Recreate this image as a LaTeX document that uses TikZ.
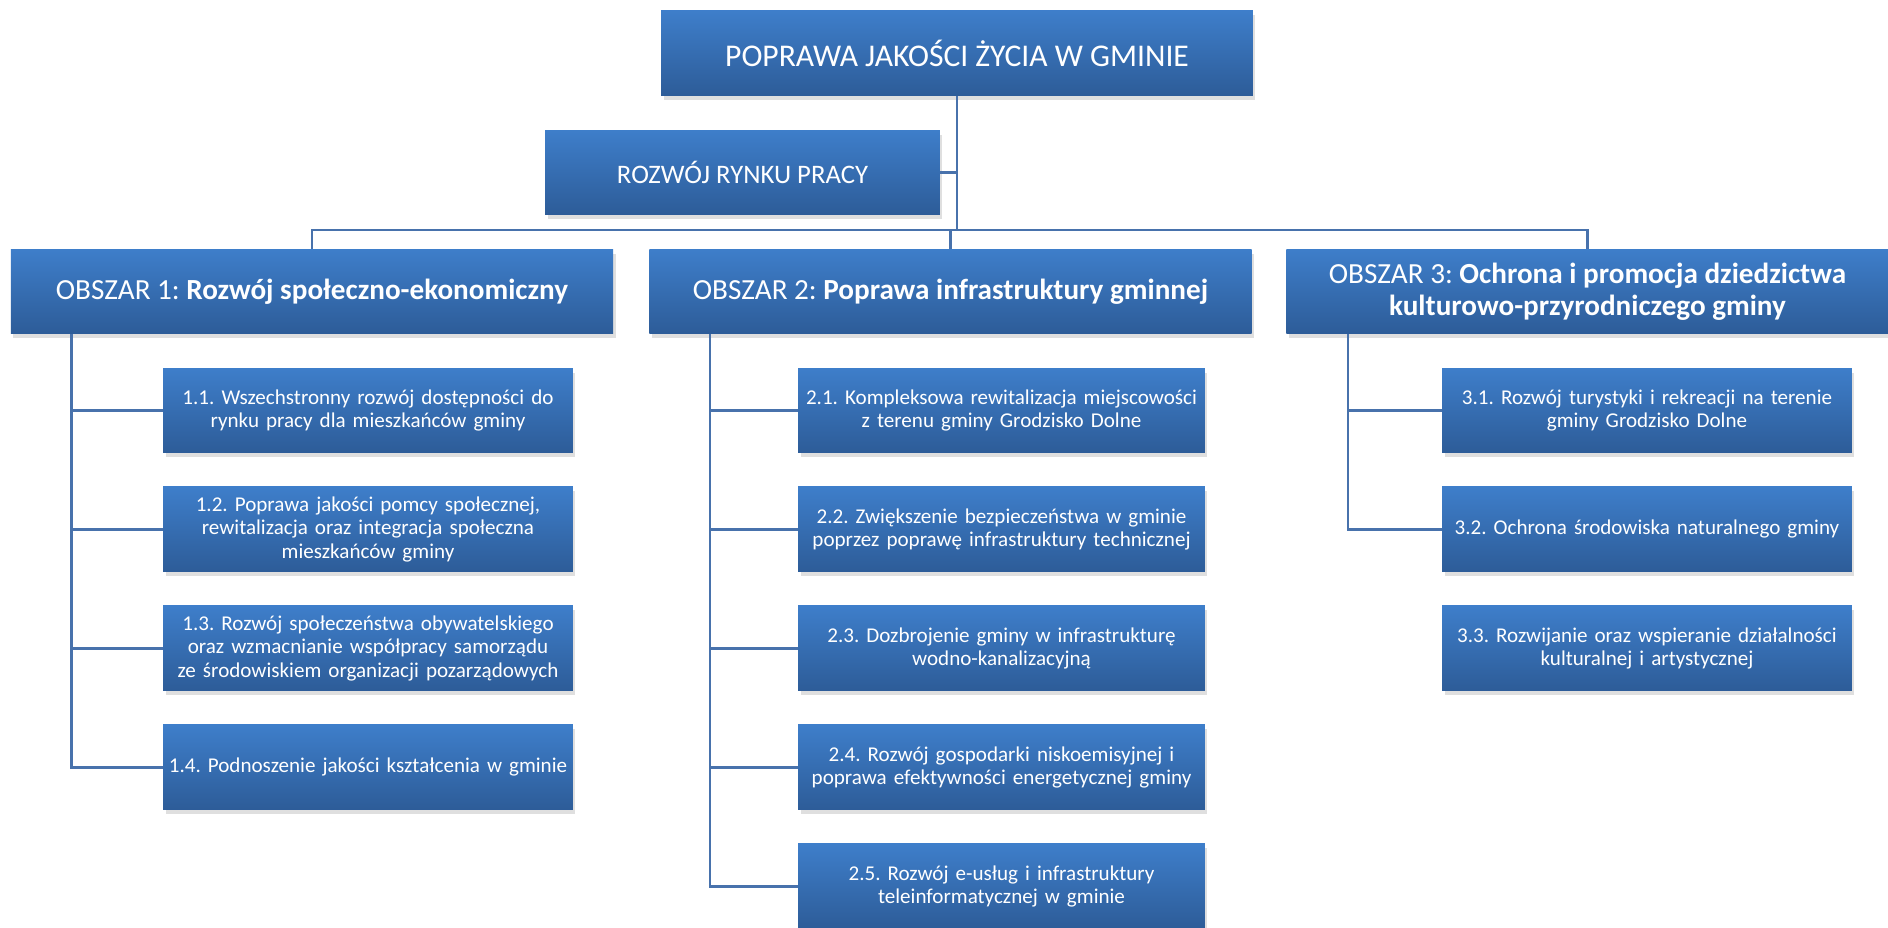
\documentclass[tikz,border=0pt]{standalone}
\usepackage{fontspec}
\setmainfont{Carlito}
\frenchspacing
\usetikzlibrary{shadows}
\definecolor{boxtop}{RGB}{62,126,202}
\definecolor{boxbot}{RGB}{45,92,152}
\definecolor{linkblue}{RGB}{72,114,172}
\tikzset{
	box/.style={shading=axis, top color=boxtop, bottom color=boxbot, text=white, align=center, inner sep=2pt, minimum height=1.7cm, drop shadow={opacity=0.25, shadow xshift=0.05cm, shadow yshift=-0.09cm}},
	sub/.style={box, minimum width=8.2cm, text width=8cm, font=\fontsize{12}{13.2}\selectfont},
	head/.style={box, minimum width=12.05cm, font=\fontsize{16.6}{18.3}\selectfont},
	link/.style={draw=linkblue, line width=0.05cm},
}
\begin{document}
\begin{tikzpicture}[x=0.02cm, y=-0.02cm, node distance=2.38cm]
		\useasboundingbox (0,0) rectangle (1888,928);
		\node (top) [box, minimum width=11.84cm, font=\fontsize{18}{21}\selectfont] at (957,53.5) {POPRAWA JAKOŚCI ŻYCIA W GMINIE};
		\node (rrp) [box, minimum width=7.9cm, font=\fontsize{15.2}{18}\selectfont] at (742.5,172.5) {ROZWÓJ RYNKU PRACY};
		\node (o1) [head] at (312,291.5) {OBSZAR 1: \textbf{Rozwój społeczno-ekonomiczny}};
		\node (o2) [head] at (950.5,291.5) {OBSZAR 2: \textbf{Poprawa infrastruktury gminnej}};
		\node (o3) [head] at (1587.5,291.5) {OBSZAR 3: \textbf{Ochrona i promocja dziedzictwa}\\\textbf{kulturowo-przyrodniczego gminy}};
		\coordinate (bar) at (950.5,230);
		% obszar 1
		\node (s11) [sub] at (368,410.5) {1.1. Wszechstronny rozwój dostępności do\\rynku pracy dla mieszkańców gminy};
		\node (s12) [sub, below of=s11] {1.2. Poprawa jakości pomcy społecznej,\\rewitalizacja oraz integracja społeczna\\mieszkańców gminy};
		\node (s13) [sub, below of=s12] {1.3. Rozwój społeczeństwa obywatelskiego\\oraz wzmacnianie współpracy samorządu\\ze środowiskiem organizacji pozarządowych};
		\node (s14) [sub, below of=s13] {1.4. Podnoszenie jakości kształcenia w gminie};
		% obszar 2
		\node (s21) [sub, minimum width=8.1cm] at (1001.5,410.5) {2.1. Kompleksowa rewitalizacja miejscowości\\z terenu gminy Grodzisko Dolne};
		\node (s22) [sub, minimum width=8.1cm, below of=s21] {2.2. Zwiększenie bezpieczeństwa w gminie\\poprzez poprawę infrastruktury technicznej};
		\node (s23) [sub, minimum width=8.1cm, below of=s22] {2.3. Dozbrojenie gminy w infrastrukturę\\wodno-kanalizacyjną};
		\node (s24) [sub, minimum width=8.1cm, below of=s23] {2.4. Rozwój gospodarki niskoemisyjnej i\\poprawa efektywności energetycznej gminy};
		\node (s25) [sub, minimum width=8.1cm, below of=s24] {2.5. Rozwój e-usług i infrastruktury\\teleinformatycznej w gminie};
		% obszar 3
		\node (s31) [sub] at (1647,410.5) {3.1. Rozwój turystyki i rekreacji na terenie\\gminy Grodzisko Dolne};
		\node (s32) [sub, below of=s31] {3.2. Ochrona środowiska naturalnego gminy};
		\node (s33) [sub, below of=s32] {3.3. Rozwijanie oraz wspieranie działalności\\kulturalnej i artystycznej};
		% connectors
		\draw[link] (top.south) -- (top.south |- bar);
		\draw[link] (rrp.east) -- (rrp.east -| top.south);
		\draw[link] (o1.north) |- (bar) -| (o3.north);
		\draw[link] (o2.north) -- (bar);
		\draw[link] (o1.south west) ++(61,0) |- (s11.west);
		\draw[link] (o1.south west) ++(61,0) |- (s12.west);
		\draw[link] (o1.south west) ++(61,0) |- (s13.west);
		\draw[link] (o1.south west) ++(61,0) |- (s14.west);
		\draw[link] (o2.south west) ++(61,0) |- (s21.west);
		\draw[link] (o2.south west) ++(61,0) |- (s22.west);
		\draw[link] (o2.south west) ++(61,0) |- (s23.west);
		\draw[link] (o2.south west) ++(61,0) |- (s24.west);
		\draw[link] (o2.south west) ++(61,0) |- (s25.west);
		\draw[link] (o3.south west) ++(62,0) |- (s31.west);
		\draw[link] (o3.south west) ++(62,0) |- (s32.west);
\end{tikzpicture}
\end{document}
